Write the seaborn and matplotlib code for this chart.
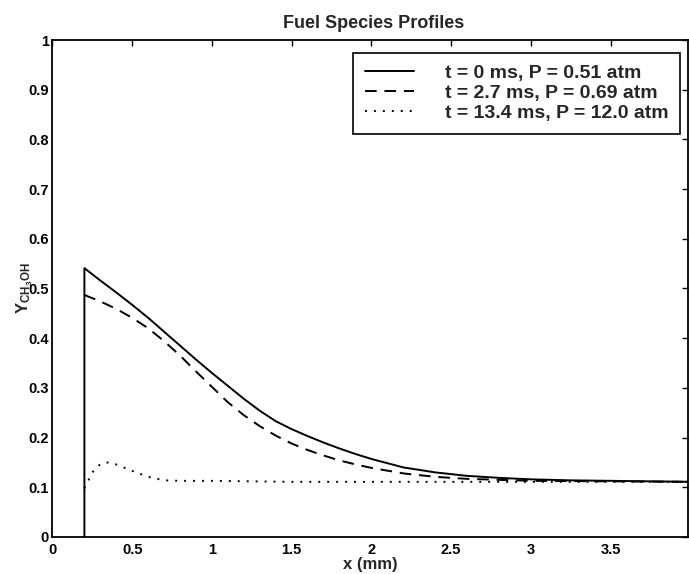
import numpy as np
import pandas as pd
import matplotlib
matplotlib.use("Agg")
import matplotlib.pyplot as plt
from matplotlib.ticker import FormatStrFormatter, MultipleLocator
from matplotlib.lines import Line2D
import seaborn as sns

# ---- data ----
x_t0 = [0.2, 0.2, 0.3, 0.4, 0.5, 0.6, 0.7, 0.8, 0.9, 1.0, 1.1, 1.2, 1.3, 1.4, 1.5, 1.6, 1.7, 1.8, 1.9,
        2.0, 2.2, 2.4, 2.6, 2.8, 3.0, 3.25, 3.5, 3.75, 4.0]
y_t0 = [0.0, 0.541, 0.516, 0.492, 0.467, 0.441, 0.413, 0.385, 0.357, 0.330, 0.304, 0.278, 0.254, 0.233,
        0.217, 0.203, 0.190, 0.178, 0.167, 0.157, 0.140, 0.130, 0.123, 0.119, 0.116, 0.114, 0.113, 0.112, 0.111]

x_t27 = [0.2, 0.3, 0.4, 0.5, 0.6, 0.7, 0.8, 0.9, 1.0, 1.1, 1.2, 1.3, 1.4, 1.5, 1.6, 1.7, 1.8, 1.9,
         2.0, 2.2, 2.4, 2.6, 2.8, 3.0, 3.5, 4.0]
y_t27 = [0.487, 0.474, 0.459, 0.441, 0.420, 0.394, 0.365, 0.333, 0.302, 0.271, 0.245, 0.223, 0.204,
         0.188, 0.175, 0.164, 0.154, 0.146, 0.139, 0.128, 0.121, 0.117, 0.115, 0.113, 0.112, 0.111]

x_t134 = [0.2, 0.25, 0.3, 0.35, 0.4, 0.5, 0.6, 0.7, 0.8, 1.0, 1.5, 2.0, 2.5, 3.0, 3.5, 4.0]
y_t134 = [0.098, 0.130, 0.147, 0.150, 0.146, 0.133, 0.121, 0.114, 0.113, 0.113, 0.111, 0.111, 0.111, 0.111, 0.111, 0.111]

labels = ["t = 0 ms, P = 0.51 atm", "t = 2.7 ms, P = 0.69 atm", "t = 13.4 ms, P = 12.0 atm"]
title = "Fuel Species Profiles"
xlabel = "x (mm)"
ylabel = r"Y$_{\mathregular{CH_3OH}}$"

# ---- style ----
sns.set_style("white")
plt.rcParams["font.family"] = ["Liberation Sans", "DejaVu Sans"]
plt.rcParams["font.weight"] = "bold"
plt.rcParams["mathtext.fontset"] = "custom"
plt.rcParams["mathtext.rm"] = "Liberation Sans:bold"
plt.rcParams["mathtext.it"] = "Liberation Sans:bold"
plt.rcParams["mathtext.bf"] = "Liberation Sans:bold"
plt.rcParams["mathtext.default"] = "rm"

fig = plt.figure(figsize=(6.89, 5.74), dpi=100)
W, H = 689, 574
left, right, top, bottom = 52.5, 688, 40, 537
ax = fig.add_axes([left / W, (H - bottom) / H, (right - left) / W, (bottom - top) / H])

lw = 1.4
dash_pat = [6.0, 4.0]
dot_pat = [1.0, 3.6]
df0 = pd.DataFrame({"x": x_t0, "y": y_t0})
df1 = pd.DataFrame({"x": x_t27, "y": y_t27})
df2 = pd.DataFrame({"x": x_t134, "y": y_t134})
sns.lineplot(data=df0, x="x", y="y", ax=ax, estimator=None, sort=False,
             color="black", linewidth=lw, linestyle="-")
sns.lineplot(data=df1, x="x", y="y", ax=ax, estimator=None, sort=False,
             color="black", linewidth=lw)
ax.lines[-1].set_dashes(dash_pat)
sns.lineplot(data=df2, x="x", y="y", ax=ax, estimator=None, sort=False,
             color="black", linewidth=lw)
ax.lines[-1].set_dashes(dot_pat)

ax.set_xlim(0, 3.985)
ax.set_ylim(0, 1)
ax.xaxis.set_major_locator(MultipleLocator(0.5))
ax.yaxis.set_major_locator(MultipleLocator(0.1))
ax.xaxis.set_major_formatter(FormatStrFormatter("%g"))
ax.yaxis.set_major_formatter(FormatStrFormatter("%g"))
ax.tick_params(axis="both", direction="in", length=4, width=1.0, color="black",
               top=True, right=True, labelsize=10.5, labelcolor="black")
ax.tick_params(axis="y", pad=2.5)
ax.tick_params(axis="x", pad=4)
for lab in ax.get_xticklabels() + ax.get_yticklabels():
    lab.set_fontweight("bold")
for s in ax.spines.values():
    s.set_visible(True)
    s.set_color("black")
    s.set_linewidth(1.3)

ax.set_title(title, fontsize=13, fontweight="bold", pad=8.4, x=0.505)
ax.set_xlabel(xlabel, fontsize=12, fontweight="bold")
ax.set_ylabel(ylabel, fontsize=12, fontweight="bold")
ax.xaxis.set_label_coords(0.5, -0.040)
ax.yaxis.set_label_coords(-0.027, 0.5)

handles = [
    Line2D([], [], color="black", linewidth=lw, linestyle="-"),
    Line2D([], [], color="black", linewidth=lw, dashes=dash_pat),
    Line2D([], [], color="black", linewidth=lw, dashes=dot_pat),
]
leg = ax.legend(handles, labels, loc="upper right",
                bbox_to_anchor=((680 - left) / (right - left), (bottom - 53) / (bottom - top)),
                borderaxespad=0, fancybox=False, framealpha=1, edgecolor="black",
                prop={"size": 14, "weight": "bold"}, handlelength=2.5,
                handletextpad=1.6, labelspacing=0.12, borderpad=0.6)
leg.get_frame().set_linewidth(1.2)

fig.savefig("out.png", dpi=100)
